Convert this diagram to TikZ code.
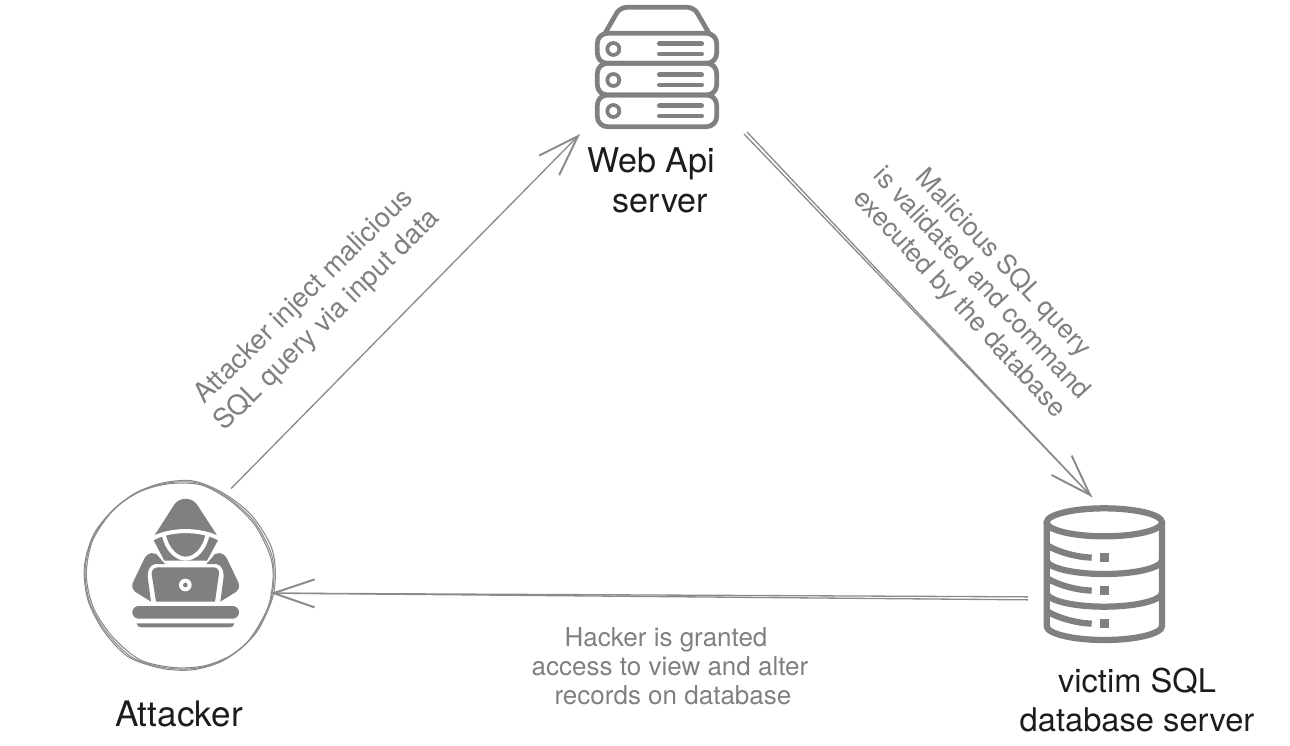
\documentclass[tikz,border=0pt]{standalone}
\usepackage{fontspec}
\setmainfont{TeX Gyre Heros}
\usetikzlibrary{arrows.meta}
\definecolor{icongray}{HTML}{808080}
\definecolor{linegray}{HTML}{8A8A8A}
\definecolor{namecolor}{HTML}{1C1C1C}
\begin{document}
\begin{tikzpicture}[x=0.02cm,y=-0.02cm]
	\tikzstyle{holder} = [inner sep=0pt, outer sep=0pt]
	\tikzstyle{nametext} = [text=namecolor, font=\fontsize{19.4}{22.7}\selectfont, inner sep=0pt]
	\tikzstyle{notetext} = [text=icongray, font=\fontsize{14.8}{16.5}\selectfont, inner sep=0pt]
	\tikzstyle{ringline} = [draw=linegray, line width=0.6pt]
	\tikzstyle{iconline} = [draw=icongray, line width=0.095cm]
	\tikzstyle{dbline} = [draw=icongray, line width=0.125cm]
	\tikzstyle{gapline} = [draw=white, line width=0.08cm]
	\tikzstyle{wire} = [draw=linegray, line width=0.75pt]
	\tikzstyle{wiretip} = [-{Straight Barb[length=0.82cm,width=0.56cm,line width=1.1pt]}]

	\useasboundingbox (0,0) rectangle (1290,746);

	\node[holder, circle, minimum size=3.72cm] (attacker) at (179,577) {};
	\node[holder, minimum width=3.28cm, minimum height=2.68cm] (webapi) at (662,67) {};
	\node[holder, minimum width=2.56cm, minimum height=2.96cm] (dbase) at (1092,571) {};

	\foreach \ringturn/\ringx/\ringy in {0/0/0, 4/1.5/-1, -3/-1/1}
		\draw[ringline, shift={(\ringx,\ringy)}, rotate around={\ringturn:(179,576)}] plot[smooth cycle] coordinates {(138,492) (167,483) (198,483) (227,497) (253,520) (270,550) (274,573) (270,603) (252,637) (227,658) (198,668) (167,668) (133,658) (107,633) (90,603) (85,570) (93,537) (113,510)};

	\begin{scope}[shift={(70,470)},scale=1/3]
		\fill[icongray] (248,205) -- (312,105) .. controls (328,80) and (366,80) .. (382,105) -- (447,205) -- (411,272) -- (283,272) -- cycle;
		\draw[gapline] (243,208) .. controls (300,175) and (394,175) .. (452,208);
		\draw[gapline] (281,192) .. controls (290,240) and (320,266) .. (347,266) .. controls (374,266) and (404,240) .. (413,192);
		\foreach \side in {1,-1}
			\fill[icongray, shift={(347,0)}, xscale=\side] (-115,255) .. controls (-107,248) and (-97,248) .. (-88,252) -- (-62,282) -- (-92,282) .. controls (-107,285) and (-115,300) .. (-114,320) -- (-104,395) -- (-152,365) .. controls (-162,355) and (-162,345) .. (-157,335) -- (-125,268) .. controls (-122,262) and (-120,258) .. (-115,255) -- cycle;
		\fill[icongray] (245,312) .. controls (245,300) and (252,292) .. (265,292) -- (430,292) .. controls (442,292) and (448,300) .. (447,312) -- (435,395) -- (258,395) -- cycle;
		\fill[white] (346,345) circle [radius=19];
		\fill[icongray] (346,345) circle [radius=7];
		\fill[icongray, rounded corners=0.125cm] (187,408) rectangle (507,446);
		\fill[icongray] (200,460) -- (493,460) .. controls (490,470) and (485,472) .. (478,472) -- (215,472) .. controls (208,472) and (203,470) .. (200,460) -- cycle;
	\end{scope}

	\begin{scope}[shift={(570,0)},scale=1/3]
		\draw[iconline, rounded corners=0.13cm] (105,100) -- (150,22) -- (372,22) -- (417,100);
		\draw[iconline, rounded corners=0.2cm] (82,100) rectangle (440,190);
		\draw[iconline, rounded corners=0.2cm] (82,190) rectangle (440,285);
		\draw[iconline, rounded corners=0.2cm] (82,285) rectangle (440,380);
		\foreach \rowy in {0,93,186} {
			\draw[iconline, line width=0.075cm] (130,147+\rowy) circle [radius=18];
			\draw[iconline, line cap=round] (268,131+\rowy) -- (395,131+\rowy);
			\draw[iconline, line cap=round] (268,162+\rowy) -- (395,162+\rowy);
		}
	\end{scope}

	\begin{scope}[shift={(1020,470)},scale=1/3]
		\draw[dbline] (80,157) .. controls (80,134) and (158,115) .. (253,115) .. controls (348,115) and (426,134) .. (426,157) .. controls (426,180) and (348,199) .. (253,199) .. controls (158,199) and (80,180) .. (80,157) -- cycle;
		\draw[dbline] (80,157) -- (80,468) .. controls (80,491) and (158,510) .. (253,510) .. controls (348,510) and (426,491) .. (426,468) -- (426,157);
		\foreach \rowy in {270,368}
			\draw[dbline] (80,\rowy) .. controls (80,\rowy+23) and (158,\rowy+42) .. (253,\rowy+42) .. controls (348,\rowy+42) and (426,\rowy+23) .. (426,\rowy);
		\foreach \rowy in {0,99,198} {
			\draw[dbline] (85,228+\rowy) .. controls (120,248+\rowy) and (170,261+\rowy) .. (215,263+\rowy);
			\fill[icongray] (240,250+\rowy) rectangle (266,275+\rowy);
		}
	\end{scope}

	\draw[wire, wiretip, shorten <=0.2cm] (attacker.61) -- (webapi.south west);
	\draw[wire, wiretip] (webapi.south east) -- (dbase.north);
	\draw[wire] ([shift={(3,-2)}]webapi.south east) -- (dbase.north);
	\draw[wire, wiretip] (dbase.202.1) -- (attacker.-10);
	\draw[wire] ([yshift=-0.06cm]dbase.202.1) -- (attacker.-10);

	\node[nametext, align=left] (webname) at (651,180) {Web Api\\\hspace*{14.7pt}server};
	\node[nametext, align=center, font=\fontsize{18.6}{22.4}\selectfont] (dbname) at (1137,700) {victim SQL\\database server};
	\node[nametext, font=\fontsize{20}{24}\selectfont] (attackername) at (179,714) {Attacker};

	\node[notetext, align=center, rotate=44.5, font=\fontsize{15.6}{18.8}\selectfont] (injectnote) at (316,309) {Attacker inject malicious\\SQL query via input data};
	\node[notetext, align=center, rotate=-47.2, font=\fontsize{15}{17}\selectfont] (querynote) at (981,284) {Malicious SQL query\\is validated and command\\executed by the database};
	\node[notetext, align=left] (grantnote) at (670,666) {\hspace*{18.7pt}Hacker is granted\\access to view and alter\\\hspace*{13pt}records on database};
\end{tikzpicture}
\end{document}
